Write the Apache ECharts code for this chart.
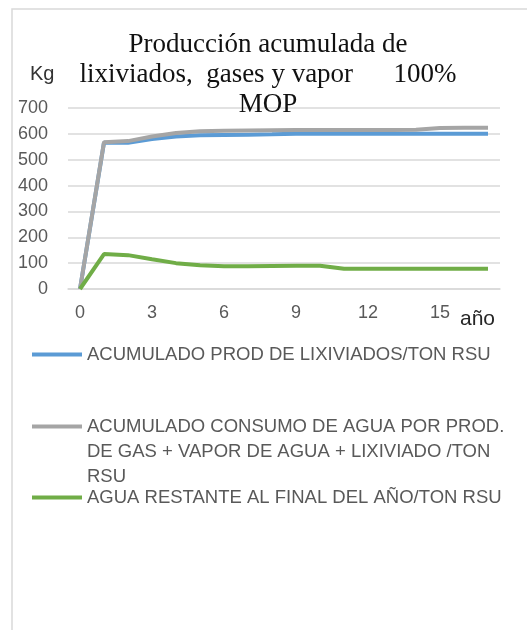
<!DOCTYPE html>
<html lang="es">
<head>
  <meta charset="UTF-8">
  <title>Producción acumulada</title>
  <style>
    * { margin: 0; padding: 0; }
    #main { width: 527px; height: 630px; background: #fff; }
  </style>
</head>
<body>
  <div id="main"></div>
  <script src="https://cdn.jsdelivr.net/npm/echarts@6/dist/echarts.min.js"></script>
  <script>
    // años 0..17
    const years = ['0', '1', '2', '3', '4', '5', '6', '7', '8', '9', '10', '11', '12', '13', '14', '15', '16', '17']
    // Kg / ton RSU
    const lixiviados = [0, 566, 566, 580, 590, 595, 596, 597, 598, 600, 600, 600, 600, 600, 600, 600, 600, 600]
    const consumo = [0, 568, 572, 590, 603, 610, 612, 613, 614, 615, 615, 615, 615, 615, 616, 623, 624, 624]
    const restante = [0, 135, 131, 115, 100, 92, 88, 88, 89, 90, 90, 78, 78, 78, 78, 78, 78, 78]

    const names = [
      'ACUMULADO PROD DE LIXIVIADOS/TON RSU',
      'ACUMULADO CONSUMO DE AGUA POR PROD. DE GAS + VAPOR DE AGUA + LIXIVIADO /TON RSU',
      'AGUA RESTANTE AL FINAL DEL AÑO/TON RSU'
    ]
    const colors = ['#5b9bd5', '#a5a5a5', '#70ad47']

    const chart = echarts.init(document.getElementById('main'))

    const legendText = {
      color: '#595959',
      fontFamily: 'Liberation Sans',
      fontSize: 18.5,
      lineHeight: 25
    }
    function legendFor(i, top, fmt) {
      return {
        data: [names[i]],
        orient: 'vertical',
        left: 32,
        top: top,
        padding: 0,
        icon: 'rect',
        itemWidth: 50,
        itemHeight: 4,
        selectedMode: false,
        textStyle: legendText,
        formatter: fmt
      }
    }

    const option = {
      animation: false,
      color: colors,
      title: {
        text: 'Producción acumulada de\nlixiviados,  gases y vapor      100%\nMOP',
        left: 268,
        top: 30,
        textAlign: 'center',
        padding: 0,
        textStyle: {
          fontFamily: 'Liberation Serif',
          fontWeight: 'normal',
          fontSize: 27,
          lineHeight: 30,
          color: '#111'
        }
      },
      grid: { left: 68, right: 27, top: 108, bottom: 341, containLabel: false },
      xAxis: {
        type: 'category',
        data: years,
        boundaryGap: true,
        axisLine: { lineStyle: { color: '#d9d9d9', width: 1.5 } },
        axisTick: { show: false },
        axisLabel: {
          interval: 2,
          margin: 15,
          color: '#595959',
          fontFamily: 'Liberation Sans',
          fontSize: 18
        }
      },
      yAxis: {
        type: 'value',
        min: 0,
        max: 700,
        interval: 100,
        axisLine: { show: false },
        axisTick: { show: false },
        splitLine: { lineStyle: { color: '#d9d9d9', width: 1.5 } },
        axisLabel: {
          margin: 20,
          color: '#595959',
          fontFamily: 'Liberation Sans',
          fontSize: 18
        }
      },
      legend: [
        legendFor(0, 342),
        legendFor(1, 364, () => '\n\nACUMULADO CONSUMO DE AGUA POR PROD.\nDE GAS + VAPOR DE AGUA + LIXIVIADO /TON\nRSU'),
        legendFor(2, 485)
      ],
      graphic: [
        {
          type: 'rect',
          shape: { x: 12, y: 9, width: 600, height: 700 },
          style: { fill: 'none', stroke: '#d9d9d9', lineWidth: 1.5 },
          silent: true
        },
        {
          type: 'text',
          left: 30,
          top: 64,
          style: { text: 'Kg', font: '20px "Liberation Sans"', fill: '#333' }
        },
        {
          type: 'text',
          left: 460,
          top: 309,
          style: { text: 'año', font: '21px "Liberation Sans"', fill: '#262626' }
        }
      ],
      series: [
        { name: names[0], type: 'line', data: lixiviados },
        { name: names[1], type: 'line', data: consumo },
        { name: names[2], type: 'line', data: restante }
      ].map(s => Object.assign(s, {
        symbol: 'none',
        lineStyle: { width: 4 }
      }))
    }

    chart.setOption(option)
  </script>
</body>
</html>
